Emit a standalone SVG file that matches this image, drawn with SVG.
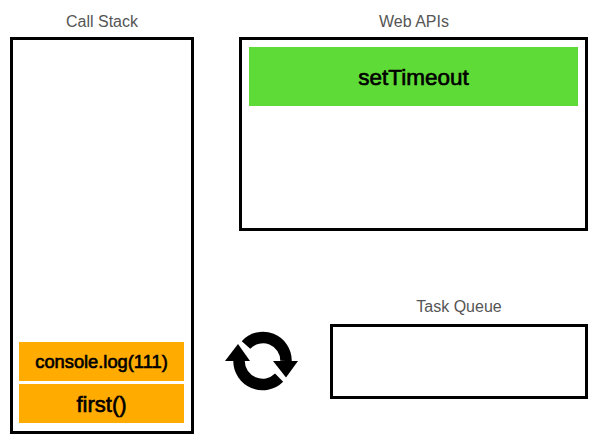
<svg xmlns="http://www.w3.org/2000/svg" width="600" height="445" viewBox="0 0 600 445">
<style>
text{font-family:"Liberation Sans",Arial,sans-serif;text-anchor:middle}
.box{fill:#fff;stroke:#000;stroke-width:3}
.title{font-size:16px;fill:#555}
.lbl{fill:#000;stroke:#000;stroke-width:.65}
.arc{fill:none;stroke:#000;stroke-width:11.500}
</style>
<rect width="600" height="445" fill="#fff"/>
<g id="call-stack">
<text class="title" x="102" y="27">Call Stack</text>
<rect class="box" x="11.500" y="38.500" width="181" height="394"/>
</g>
<g id="web-apis">
<text class="title" x="414" y="27">Web APIs</text>
<rect class="box" x="240.500" y="38.500" width="346" height="191"/>
</g>
<g id="task-queue">
<text class="title" x="459" y="312">Task Queue</text>
<rect class="box" x="331.500" y="325.500" width="255" height="72"/>
</g>
<g id="setTimeout">
<rect x="249" y="47" width="329" height="59" fill="#5fdb37"/>
<text class="lbl" x="413.500" y="85" font-size="22.500">setTimeout</text>
</g>
<g id="console-log">
<rect x="19" y="342" width="165" height="39" fill="#ffab00"/>
<text class="lbl" x="101.500" y="368" font-size="18.300">console.log(111)</text>
</g>
<g id="first">
<rect x="19" y="384" width="165" height="39" fill="#ffab00"/>
<text class="lbl" x="101.500" y="412" font-size="22">first()</text>
</g>
<g id="connectors">
<path class="arc" d="M246 345A23 23 0 0 1 286 361"/>
<path d="M273 361L298 361L286 377.500Z" fill="#000"/>
<path class="arc" d="M279.100 377.600A23.500 23.500 0 0 1 239 361"/>
<path d="M225 361L250 361L238 344Z" fill="#000"/>
</g>
</svg>
